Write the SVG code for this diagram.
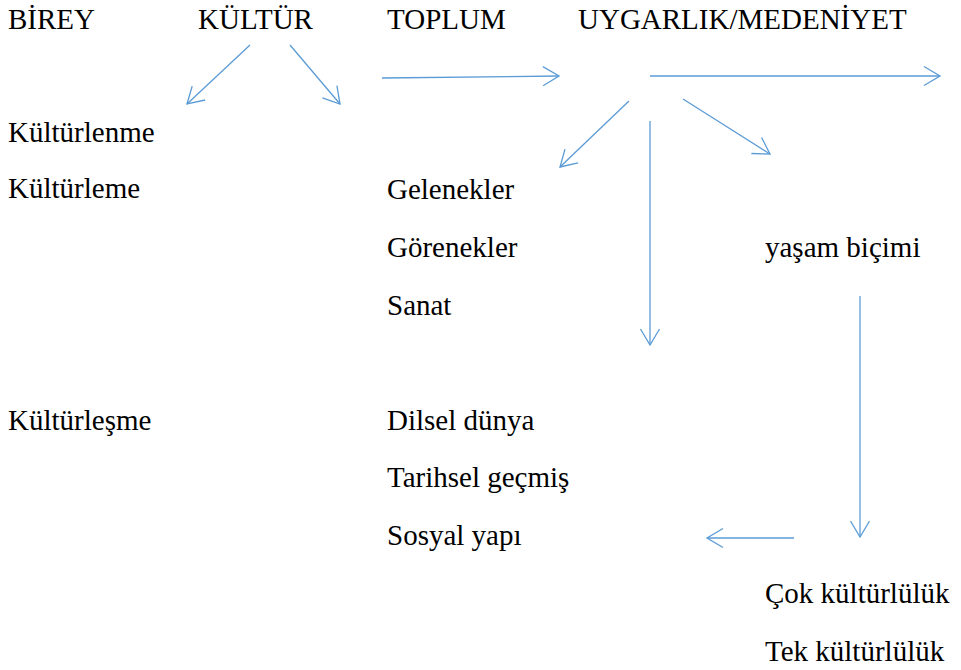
<svg xmlns="http://www.w3.org/2000/svg" width="961" height="670" viewBox="0 0 961 670">
<style>
.t text{font-family:'Liberation Serif','Times New Roman',serif;font-size:29px;fill:#000}
.c line{stroke:#5B9BD5;stroke-width:1.3;fill:none}
</style>
<defs>
<marker id="ah" markerUnits="userSpaceOnUse" markerWidth="40" markerHeight="40" viewBox="-20 -20 40 40" refX="0" refY="0" orient="auto">
<path d="M-16,-9.5 L0,0 L-16,9.5" fill="none" stroke="#5B9BD5" stroke-width="1.3"/>
</marker>
</defs>
<rect width="961" height="670" fill="#fff"/>
<g class="t">
<g id="birey"><text x="8" y="29">BİREY</text></g>
<g id="kultur"><text x="198" y="29">KÜLTÜR</text></g>
<g id="toplum"><text x="387" y="29">TOPLUM</text></g>
<g id="uygarlik"><text x="578" y="29">UYGARLIK/MEDENİYET</text></g>
<g id="kulturlenme"><text x="8" y="142">Kültürlenme</text></g>
<g id="kulturleme"><text x="8" y="198">Kültürleme</text></g>
<g id="kulturlesme"><text x="8" y="430">Kültürleşme</text></g>
<g id="gelenekler"><text x="387" y="199">Gelenekler</text></g>
<g id="gorenekler"><text x="387" y="257">Görenekler</text></g>
<g id="sanat"><text x="387" y="315">Sanat</text></g>
<g id="dilsel"><text x="387" y="430">Dilsel dünya</text></g>
<g id="tarihsel"><text x="387" y="487">Tarihsel geçmiş</text></g>
<g id="sosyal"><text x="387" y="545">Sosyal yapı</text></g>
<g id="yasam"><text x="765" y="257">yaşam biçimi</text></g>
<g id="cok"><text x="765" y="603">Çok kültürlülük</text></g>
<g id="tek"><text x="765" y="661">Tek kültürlülük</text></g>
</g>
<g class="c" id="connectors">
<line x1="250" y1="45" x2="187" y2="104" marker-end="url(#ah)"/>
<line x1="290" y1="45" x2="340" y2="104" marker-end="url(#ah)"/>
<line x1="382" y1="78" x2="559" y2="76" marker-end="url(#ah)"/>
<line x1="650" y1="76" x2="940" y2="76" marker-end="url(#ah)"/>
<line x1="629" y1="101" x2="560" y2="167" marker-end="url(#ah)"/>
<line x1="650" y1="121" x2="650" y2="345" marker-end="url(#ah)"/>
<line x1="683" y1="99" x2="770" y2="154" marker-end="url(#ah)"/>
<line x1="860" y1="296" x2="860" y2="537" marker-end="url(#ah)"/>
<line x1="794" y1="538" x2="707" y2="538" marker-end="url(#ah)"/>
</g>
</svg>
